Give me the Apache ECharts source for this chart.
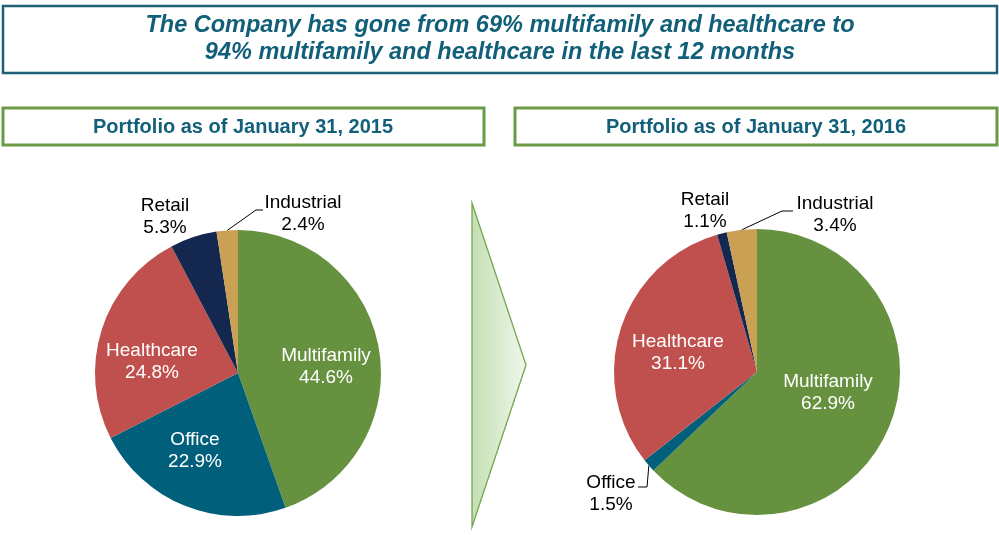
<!DOCTYPE html>
<html>
<head>
<meta charset="utf-8">
<title>Portfolio mix</title>
<script src="https://cdn.jsdelivr.net/npm/echarts@6/dist/echarts.min.js"></script>
<style>
  html, body { margin: 0; padding: 0; background: #fff; }
  #main { width: 999px; height: 535px; }
</style>
</head>
<body>
<div id="main"></div>
<script>
// sectors, clockwise from 12 o'clock
var categories = ['Multifamily', 'Office', 'Healthcare', 'Retail', 'Industrial'];
var share2015 = [44.6, 22.9, 24.8, 5.3, 2.4];
var share2016 = [62.9, 1.5, 31.1, 1.1, 3.4];
var colors = ['#66913f', '#005f7a', '#c0504d', '#14284f', '#c9a054'];

var headline = [
  'The Company has gone from 69% multifamily and healthcare to',
  '94% multifamily and healthcare in the last 12 months'
];
var panelTitles = ['Portfolio as of January 31, 2015', 'Portfolio as of January 31, 2016'];

var teal = '#115f79';
var font = '"Liberation Sans", Arial, sans-serif';

// where each label sits (index = category), and which ones are outside
var labelSpots = [
  { 0: [326, 367], 1: [195, 451], 2: [152, 362], 3: [165, 217], 4: [303, 214] },
  { 0: [828, 393], 1: [611, 494], 2: [678, 353], 3: [705, 211], 4: [835, 215] }
];
var outside = [[3, 4], [1, 3, 4]];
// leader lines: elbow + end, starting at the slice edge
var leaders = [
  { 4: [[256, 210], [263, 210]] },
  { 4: [[782, 211], [793, 211]], 1: [[647, 487], [638, 487]] }
];

function buildData(values, k) {
  return categories.map(function (name, i) {
    var out = outside[k].indexOf(i) >= 0;
    return {
      name: name,
      value: values[i],
      itemStyle: { color: colors[i] },
      label: {
        position: out ? 'outside' : 'inside',
        color: out ? '#000' : '#fff'
      },
      labelLine: { show: !!leaders[k][i] }
    };
  });
}

function pieSeries(values, k, center) {
  return {
    type: 'pie',
    radius: 143,
    center: center,
    startAngle: 90,
    clockwise: true,
    avoidLabelOverlap: false,
    silent: true,
    animation: false,
    itemStyle: { borderWidth: 0 },
    label: {
      fontFamily: font,
      fontSize: 19,
      lineHeight: 22,
      align: 'center',
      formatter: function (p) {
        return p.name + '\n' + p.value.toFixed(1) + '%';
      }
    },
    labelLine: {
      lineStyle: { color: '#000', width: 1 },
      length: 10,
      length2: 10
    },
    labelLayout: function (p) {
      var spot = labelSpots[k][p.dataIndex];
      var res = { x: spot[0], y: spot[1], align: 'center', verticalAlign: 'middle' };
      var lead = leaders[k][p.dataIndex];
      if (lead && p.labelLinePoints) {
        res.labelLinePoints = [p.labelLinePoints[0], lead[0], lead[1]];
      }
      return res;
    },
    data: buildData(values, k)
  };
}

var chart = echarts.init(document.getElementById('main'));

chart.setOption({
  backgroundColor: '#fff',
  animation: false,
  graphic: [
    {
      type: 'rect',
      shape: { x: 3, y: 6, width: 994, height: 67 },
      style: { fill: '#fff', stroke: '#1e6075', lineWidth: 2.5 }
    },
    {
      type: 'text',
      style: {
        text: headline[0], x: 500, y: 26, fill: teal,
        font: 'italic bold 23.5px ' + font,
        textAlign: 'center', textVerticalAlign: 'middle'
      }
    },
    {
      type: 'text',
      style: {
        text: headline[1], x: 500, y: 53, fill: teal,
        font: 'italic bold 23.5px ' + font,
        textAlign: 'center', textVerticalAlign: 'middle'
      }
    },
    {
      type: 'rect',
      shape: { x: 3, y: 108, width: 481, height: 37 },
      style: { fill: '#fff', stroke: '#6b9a44', lineWidth: 3 }
    },
    {
      type: 'rect',
      shape: { x: 515, y: 108, width: 482, height: 37 },
      style: { fill: '#fff', stroke: '#6b9a44', lineWidth: 3 }
    },
    {
      type: 'text',
      style: {
        text: panelTitles[0], x: 243, y: 127, fill: teal,
        font: 'bold 20px ' + font,
        textAlign: 'center', textVerticalAlign: 'middle'
      }
    },
    {
      type: 'text',
      style: {
        text: panelTitles[1], x: 756, y: 127, fill: teal,
        font: 'bold 20px ' + font,
        textAlign: 'center', textVerticalAlign: 'middle'
      }
    },
    {
      // the arrow between the two pies
      type: 'polygon',
      shape: { points: [[472, 203], [526, 365], [472, 527]] },
      style: {
        fill: new echarts.graphic.LinearGradient(0, 0, 1, 0, [
          { offset: 0, color: '#c3dfb1' },
          { offset: 1, color: '#f0f8ec' }
        ]),
        stroke: '#76a54f',
        lineWidth: 1.3
      }
    }
  ],
  series: [
    pieSeries(share2015, 0, [238, 373]),
    pieSeries(share2016, 1, [757, 372])
  ]
});
</script>
</body>
</html>
